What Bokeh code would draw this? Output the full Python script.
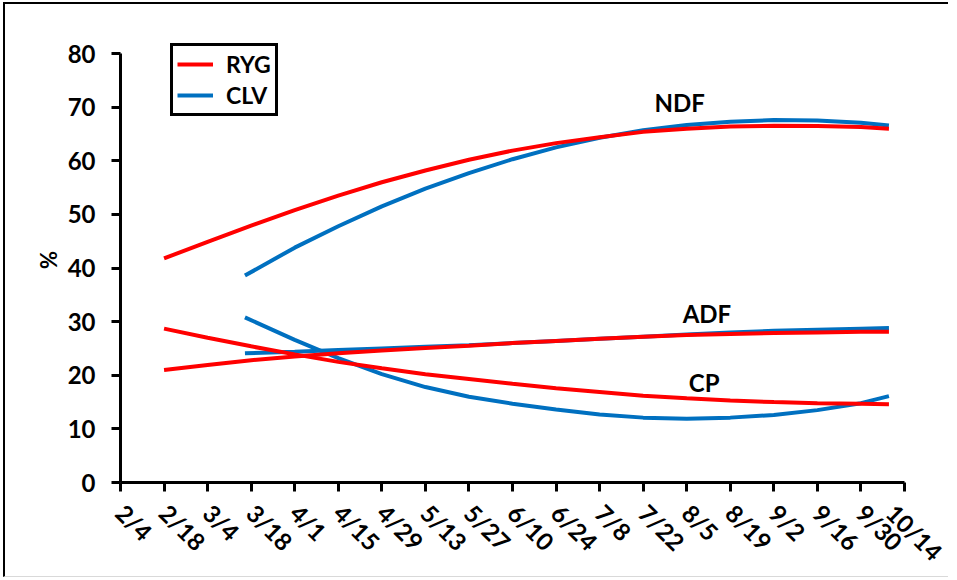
import math
from bokeh.plotting import figure
from bokeh.models import Range1d, FixedTicker, Legend, LegendItem
from bokeh.core.properties import value
from bokeh.embed import file_html
from bokeh.resources import INLINE

# ---- data ----
tick_days = [0, 14, 28, 42, 56, 70, 84, 98, 112, 126, 140, 154, 168, 182, 196, 210, 224, 238, 252]
tick_labels = ["2/4", "2/18", "3/4", "3/18", "4/1", "4/15", "4/29", "5/13", "5/27", "6/10",
               "6/24", "7/8", "7/22", "8/5", "8/19", "9/2", "9/16", "9/30", "10/14"]
y_ticks = [0, 10, 20, 30, 40, 50, 60, 70, 80]

ryg_days = [14, 28, 42, 56, 70, 84, 98, 112, 126, 140, 154, 168, 182, 196, 210, 224, 238, 247]
ryg_ndf = [41.8, 44.9, 47.9, 50.8, 53.5, 56.0, 58.2, 60.2, 61.9, 63.3, 64.4, 65.4, 66.0, 66.4, 66.55, 66.5, 66.3, 66.0]
ryg_adf = [21.0, 21.9, 22.8, 23.5, 24.1, 24.6, 25.1, 25.5, 26.0, 26.4, 26.8, 27.2, 27.5, 27.7, 27.9, 28.0, 28.1, 28.1]
ryg_cp = [28.7, 27.0, 25.4, 23.9, 22.5, 21.3, 20.2, 19.3, 18.4, 17.6, 16.9, 16.2, 15.7, 15.3, 15.0, 14.8, 14.7, 14.6]

clv_days = [40, 56, 70, 84, 98, 112, 126, 140, 154, 168, 182, 196, 210, 224, 238, 247]
clv_ndf = [38.6, 43.8, 47.8, 51.5, 54.8, 57.7, 60.3, 62.5, 64.3, 65.7, 66.7, 67.3, 67.6, 67.5, 67.1, 66.6]
clv_adf = [24.1, 24.4, 24.7, 25.0, 25.3, 25.6, 26.0, 26.4, 26.8, 27.2, 27.6, 28.0, 28.3, 28.5, 28.7, 28.8]
clv_cp = [30.8, 26.6, 23.2, 20.2, 17.8, 16.0, 14.7, 13.6, 12.7, 12.1, 11.9, 12.1, 12.6, 13.5, 14.8, 16.1]

note_text = ["NDF", "ADF", "CP"]
note_day = [179.7, 188.5, 187.6]
note_val = [70.8, 31.5, 18.6]

RED = "#FF0000"
BLUE = "#0070C0"
FONT = "Lato"

p = figure(width=945, height=575, output_backend="svg", toolbar_location=None,
           x_range=Range1d(0, 252), y_range=Range1d(0, 83),
           min_border_left=115, min_border_right=46, min_border_top=33, min_border_bottom=94)
p.styles = {"border-left": "2px solid black", "border-top": "2px solid black",
            "border-bottom": "1px solid #d9d9d9",
            "margin-left": "3px", "margin-top": "2px"}
p.outline_line_color = None
p.xgrid.visible = False
p.ygrid.visible = False
p.background_fill_color = "white"
p.border_fill_color = "white"

# x axis
xa = p.xaxis[0]
xa.ticker = FixedTicker(ticks=tick_days)
xa.major_label_overrides = {d: l for d, l in zip(tick_days, tick_labels)}
xa.major_label_orientation = -math.pi / 4
xa.major_label_text_font = FONT
xa.major_label_text_font_style = "bold"
xa.major_label_text_font_size = "24px"
xa.major_label_text_color = "black"
xa.axis_line_width = 3
xa.axis_line_color = "black"
xa.major_tick_line_width = 3
xa.major_tick_line_color = "black"
xa.major_tick_in = 0
xa.major_tick_out = 9
xa.minor_tick_line_color = None
xa.major_label_standoff = 17

# y axis
ya = p.yaxis[0]
ya.ticker = FixedTicker(ticks=y_ticks)
ya.bounds = (0, 80)
ya.major_label_text_font = FONT
ya.major_label_text_font_style = "bold"
ya.major_label_text_font_size = "24px"
ya.major_label_text_color = "black"
ya.axis_line_width = 3
ya.axis_line_color = "black"
ya.major_tick_line_width = 3
ya.major_tick_line_color = "black"
ya.major_tick_in = 0
ya.major_tick_out = 9
ya.minor_tick_line_color = None
ya.major_label_standoff = 16
ya.axis_label = "%"
ya.axis_label_text_font = FONT
ya.axis_label_text_font_style = "bold"
ya.axis_label_text_font_size = "22px"
ya.axis_label_text_color = "black"
ya.axis_label_standoff = 3

# lines
c1 = p.line(clv_days, clv_ndf, line_color=BLUE, line_width=4)
p.line(clv_days, clv_adf, line_color=BLUE, line_width=4)
p.line(clv_days, clv_cp, line_color=BLUE, line_width=4)
r1 = p.line(ryg_days, ryg_ndf, line_color=RED, line_width=4)
p.line(ryg_days, ryg_adf, line_color=RED, line_width=4)
p.line(ryg_days, ryg_cp, line_color=RED, line_width=4)

p.text(x=note_day, y=note_val, text=note_text, text_font=value(FONT),
       text_font_style="bold", text_font_size="24px", text_align="center",
       text_baseline="middle", text_color="black")

legend = Legend(items=[LegendItem(label="RYG", renderers=[r1]),
                       LegendItem(label="CLV", renderers=[c1])],
                location=(50, 366))
legend.border_line_color = "black"
legend.border_line_width = 3
legend.border_line_alpha = 1
legend.background_fill_color = "white"
legend.background_fill_alpha = 1
legend.label_text_font = FONT
legend.label_text_font_style = "bold"
legend.label_text_font_size = "23px"
legend.label_text_color = "black"
legend.glyph_width = 36
legend.glyph_height = 24
legend.label_height = 24
legend.spacing = 3
legend.padding = 4
legend.margin = 0
legend.label_standoff = 13
p.add_layout(legend, "center")

open("out.html", "w").write(file_html(p, INLINE))
